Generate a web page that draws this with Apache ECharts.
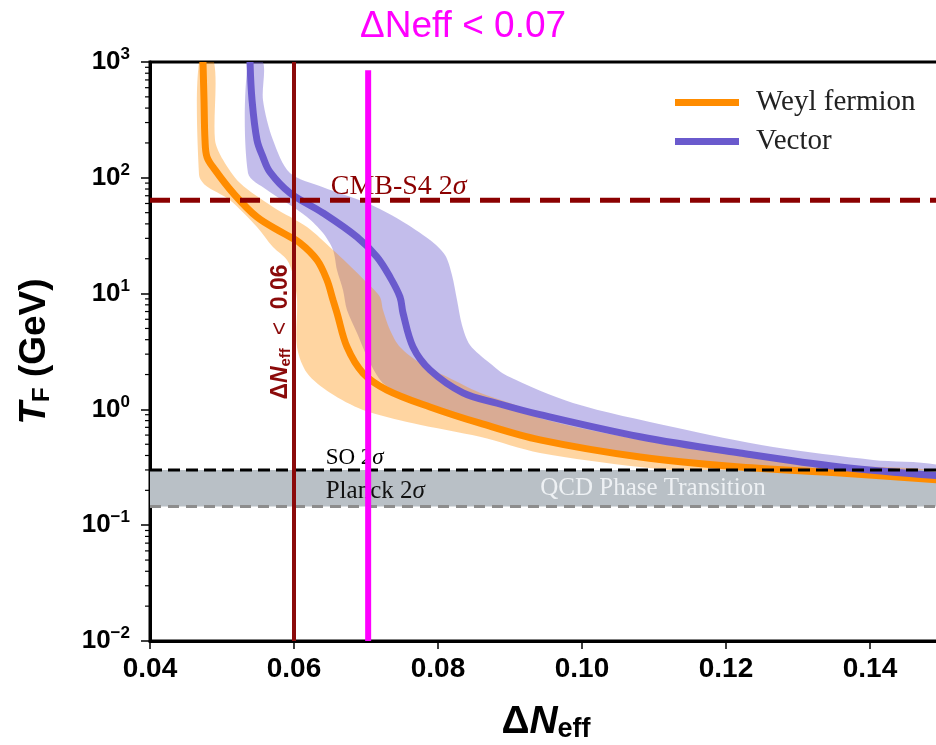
<!DOCTYPE html>
<html><head><meta charset="utf-8">
<script src="https://cdn.jsdelivr.net/npm/echarts@6/dist/echarts.min.js"></script>
<style>html,body{margin:0;padding:0;background:#fff}#c{width:936px;height:745px}</style>
</head><body><div id="c"></div>
<script>
// ---- data ----
const xTicks = [0.04, 0.06, 0.08, 0.10, 0.12, 0.14];
const yDecades = [0.01, 0.1, 1, 10, 100, 1000];

const weylLineX = [0.04736,0.0475,0.04764,0.04792,0.04903,0.05153,0.05486,0.05847,0.06083,0.0632,0.06458,0.06542,0.06597,0.06736,0.06958,0.07292,0.07889,0.08583,0.09417,0.10806,0.12194,0.13583,0.15];
const weylLineY = [1000,470,212,151,117,74,45.8,33.3,27.4,19.5,13.1,8.8,6.8,3.46,2.06,1.47,1.05,0.76,0.545,0.388,0.318,0.282,0.245];

const vectorLineX = [0.05389,0.05417,0.05486,0.05569,0.05667,0.05944,0.06403,0.06875,0.07153,0.07333,0.07472,0.07514,0.07653,0.07889,0.08347,0.0882,0.09417,0.10806,0.12194,0.13583,0.15];
const vectorLineY = [1000,470,212,151,112,74,49.7,30.8,20.7,13.9,9.35,6.8,3.46,2.19,1.39,1.13,0.9,0.58,0.42,0.318,0.266];

const weylBandUpX = [0.04889,0.04903,0.05014,0.0525,0.05708,0.06181,0.06542,0.06736,0.07014,0.07194,0.07236,0.07333,0.07472,0.0775,0.08125,0.08583,0.09139,0.09417,0.10806,0.12194,0.13583,0.15];
const weylBandUpY = [1000,212,143,90,56,37.6,23.8,18.4,12.4,9.35,7.2,4.85,3.46,2.52,1.91,1.39,1.05,0.84,0.545,0.40,0.33,0.287];
const weylBandLoX = [0.04681,0.04681,0.04764,0.05111,0.05486,0.05708,0.05903,0.05986,0.06042,0.06042,0.06181,0.065,0.06958,0.07653,0.08583,0.09417,0.10806,0.12194,0.15];
const weylBandLoY = [1000,106,86.7,64,37.6,25.2,19.5,14.5,8.8,3.46,2.06,1.39,0.99,0.76,0.58,0.42,0.318,0.271,0.2];

const vectorBandUpX = [0.05569,0.05569,0.05708,0.05944,0.06403,0.07014,0.07472,0.07889,0.08097,0.08194,0.08264,0.08333,0.08444,0.08722,0.08958,0.09875,0.11264,0.12653,0.14042,0.15];
const vectorBandUpY = [1000,470,212,110,83,60.5,43.3,29,21.5,14.5,8.8,5.36,3.6,2.5,1.95,1.135,0.705,0.473,0.366,0.324];
const vectorBandLoX = [0.05361,0.05361,0.05625,0.05903,0.06181,0.06403,0.06542,0.06597,0.06681,0.06736,0.06875,0.07056,0.07264,0.07889,0.08583,0.09417,0.10806,0.12194,0.13583,0.15];
const vectorBandLoY = [1000,110,78.5,60.5,45.8,33.3,23.8,16,10.7,7.2,4.57,2.52,1.63,1.0,0.72,0.52,0.37,0.305,0.27,0.235];

const cmbS4Limit = 64;
const soLimit = 0.30;
const planckLimit = 0.145;
const dNeffLimit = 0.06;
const dNeffMagenta = 0.0703;
const magentaTop = 850;

const annoText = ['CMB-S4 2σ', 'SO 2σ', 'Planck 2σ', 'QCD Phase Transition'];
const annoX = [0.0651, 0.0644, 0.0644, 0.0942];
const annoY = [cmbS4Limit, soLimit, planckLimit, planckLimit];
const vLabelY = 4.66;

// ---- chart ----
const zip = (xs, ys) => xs.map((x, i) => [x, ys[i]]);
const X0 = 0.04, X1 = 0.15;

function bandSeries(upX, upY, loX, loY, color, z) {
  return {
    type: 'custom', z, silent: true, clip: true,
    data: [[upX[upX.length - 1], upY[upY.length - 1]]],
    renderItem(p, api) {
      const pts = [];
      for (let i = 0; i < upX.length; i++) pts.push(api.coord([upX[i], upY[i]]));
      for (let i = loX.length - 1; i >= 0; i--) pts.push(api.coord([loX[i], loY[i]]));
      return { type: 'polygon', shape: { points: pts, smooth: 0.3 }, style: { fill: color } };
    }
  };
}

const minorVals = [];
for (let k = 0; k < yDecades.length - 1; k++) for (let m = 2; m <= 9; m++) minorVals.push(m * yDecades[k]);

const serif = 'Liberation Serif';
const sans = 'Liberation Sans';

const chart = echarts.init(document.getElementById('c'));
chart.setOption({
  animation: false,
  backgroundColor: '#fff',
  title: {
    text: 'ΔNeff < 0.07', left: 355, top: 3,
    textStyle: { color: '#ff00ff', fontSize: 37, fontWeight: 'normal', fontFamily: sans }
  },
  legend: {
    orient: 'vertical', left: 670, top: 83, itemWidth: 64, itemHeight: 7, itemGap: 10,
    icon: 'rect', data: ['Weyl fermion', 'Vector'],
    textStyle: { fontFamily: serif, fontSize: 29, color: '#222', padding: [0, 0, 0, 12] }
  },
  grid: { left: 150, top: 62, width: 792, height: 579, show: true, borderColor: '#000', borderWidth: 3,
          containLabel: false, outerBoundsMode: 'none' },
  xAxis: {
    type: 'value', min: X0, max: X1, interval: 0.02,
    axisLine: { lineStyle: { color: '#000', width: 3 } },
    axisTick: { length: 8, lineStyle: { color: '#000', width: 1.5 } },
    splitLine: { show: false },
    axisLabel: {
      margin: 14, color: '#000', fontSize: 28, fontWeight: 'bold', fontFamily: sans,
      formatter: v => xTicks.some(t => Math.abs(t - v) < 1e-9) ? v.toFixed(2) : ''
    },
    name: '{d|Δ}{n|N}{e|eff}', nameLocation: 'middle', nameGap: 60,
    nameTextStyle: {
      rich: {
        d: { fontSize: 39, fontWeight: 'bold', fontFamily: sans, color: '#000' },
        n: { fontSize: 39, fontWeight: 'bold', fontStyle: 'italic', fontFamily: sans, color: '#000' },
        e: { fontSize: 27, fontWeight: 'bold', fontFamily: sans, color: '#000', padding: [15, 0, 0, 0] }
      }
    }
  },
  yAxis: {
    type: 'log', min: 0.01, max: 1000, logBase: 10, splitNumber: 5,
    axisLine: { lineStyle: { color: '#000', width: 3 } },
    axisTick: { length: 9, lineStyle: { color: '#000', width: 1.5 } },
    splitLine: { show: false },
    axisLabel: {
      margin: 20, color: '#000',
      formatter: v => {
        const e = Math.round(Math.log10(v));
        return '{b|10}{s|' + String(e).replace('-', '−') + '}';
      },
      rich: {
        b: { fontSize: 26, fontWeight: 'bold', fontFamily: sans, color: '#000' },
        s: { fontSize: 17, fontWeight: 'bold', fontFamily: sans, color: '#000', padding: [0, 0, 15, 0] }
      }
    },
    name: '{t|T}{f|F}{g| (GeV)}', nameLocation: 'middle', nameGap: 96, nameRotate: 90,
    nameTextStyle: {
      rich: {
        t: { fontSize: 37, fontWeight: 'bold', fontStyle: 'italic', fontFamily: sans, color: '#000' },
        f: { fontSize: 24, fontWeight: 'bold', fontFamily: sans, color: '#000', padding: [15, 0, 0, 0] },
        g: { fontSize: 37, fontWeight: 'bold', fontFamily: sans, color: '#000' }
      }
    }
  },
  series: [
    bandSeries(vectorBandUpX, vectorBandUpY, vectorBandLoX, vectorBandLoY, 'rgba(106,90,205,0.40)', 1),
    bandSeries(weylBandUpX, weylBandUpY, weylBandLoX, weylBandLoY, 'rgba(255,140,0,0.37)', 2),
    { // QCD band
      type: 'custom', z: 3, silent: true, clip: true,
      data: [[X0, planckLimit]],
      renderItem(p, api) {
        const a = api.coord([X0, soLimit]), b = api.coord([X1, planckLimit]);
        return { type: 'rect', shape: { x: a[0], y: a[1], width: b[0] - a[0], height: b[1] - a[1] }, style: { fill: '#b9c0c6' } };
      }
    },
    { name: 'Weyl fermion', type: 'line', z: 4, data: zip(weylLineX, weylLineY), smooth: 0.35, showSymbol: false,
      color: '#ff8c00', lineStyle: { width: 7, color: '#ff8c00' }, clip: true },
    { name: 'Vector', type: 'line', z: 5, data: zip(vectorLineX, vectorLineY), smooth: 0.35, showSymbol: false,
      color: '#6a5acd', lineStyle: { width: 7, color: '#6a5acd' }, clip: true },
    { // reference lines
      type: 'custom', z: 6, silent: true, clip: true,
      data: [[X0, soLimit]],
      renderItem(p, api) {
        const h = (y, stroke, w, dash) => {
          const a = api.coord([X0, y]), b = api.coord([X1, y]);
          return { type: 'line', shape: { x1: a[0], y1: a[1], x2: b[0], y2: b[1] }, style: { stroke, lineWidth: w, lineDash: dash } };
        };
        const v0 = api.coord([dNeffLimit, 0.01]), v1 = api.coord([dNeffLimit, 1000]);
        return { type: 'group', children: [
          h(planckLimit, '#8d8d8d', 3, [11, 7]),
          h(soLimit, '#000', 3, [12, 6]),
          h(cmbS4Limit, '#8b0000', 5, [20, 10]),
          { type: 'line', shape: { x1: v0[0], y1: v0[1], x2: v1[0], y2: v1[1] }, style: { stroke: '#8b0a0a', lineWidth: 4 } }
        ]};
      }
    },
    { // text annotations
      type: 'custom', z: 8, silent: true, clip: false,
      data: annoX.map((x, i) => [x, annoY[i], i]),
      renderItem(p, api) {
        const i = api.value(2);
        const c = api.coord([api.value(0), api.value(1)]);
        const t = annoText[i];
        const colors = ['#8b0000', '#000', '#111', '#eef1f4'];
        const sizes = [28, 23, 25, 25];
        const dy = [0, 0, -3, -6];
        const body = t.endsWith('σ') ? '{n|' + t.slice(0, -1) + '}{i|σ}' : '{n|' + t + '}';
        return { type: 'text', x: c[0], y: c[1] + dy[i], style: {
          text: body, align: 'left', verticalAlign: 'bottom',
          rich: {
            n: { fontSize: sizes[i], fontFamily: serif, fill: colors[i] },
            i: { fontSize: sizes[i], fontFamily: serif, fontStyle: 'italic', fill: colors[i] }
          }
        }};
      }
    },
    { // rotated label on the 0.06 line
      type: 'custom', z: 8, silent: true, clip: false,
      data: [[dNeffLimit, vLabelY]],
      renderItem(p, api) {
        const c = api.coord([api.value(0), api.value(1)]);
        const col = '#8b0a0a';
        return { type: 'text', x: c[0] - 13, y: c[1], rotation: Math.PI / 2, style: {
          text: '{d|Δ}{n|N}{s|eff}{l|  <  }{v|0.06}', align: 'center', verticalAlign: 'middle',
          rich: {
            d: { fontSize: 23, fontWeight: 'bold', fontFamily: sans, fill: col },
            n: { fontSize: 23, fontWeight: 'bold', fontStyle: 'italic', fontFamily: sans, fill: col },
            s: { fontSize: 15, fontWeight: 'bold', fontFamily: sans, fill: col, padding: [9, 0, 0, 0] },
            l: { fontSize: 23, fontFamily: sans, fill: col },
            v: { fontSize: 23, fontWeight: 'bold', fontFamily: sans, fill: col }
          }
        }};
      }
    },
    { // magenta line
      type: 'custom', z: 9, silent: true, clip: false,
      data: [[dNeffMagenta, magentaTop]],
      renderItem(p, api) {
        const a = api.coord([dNeffMagenta, 0.01]), b = api.coord([dNeffMagenta, magentaTop]);
        return { type: 'line', shape: { x1: a[0], y1: a[1], x2: b[0], y2: b[1] }, style: { stroke: '#ff00ff', lineWidth: 6 } };
      }
    },
    { // log minor ticks
      type: 'custom', z: 10, silent: true, clip: false,
      data: minorVals.map(v => [X0, v]),
      renderItem(p, api) {
        const c = api.coord([api.value(0), api.value(1)]);
        return { type: 'line', shape: { x1: c[0] - 5, y1: c[1], x2: c[0], y2: c[1] }, style: { stroke: '#000', lineWidth: 1.2 } };
      }
    }
  ]
});
</script></body></html>
